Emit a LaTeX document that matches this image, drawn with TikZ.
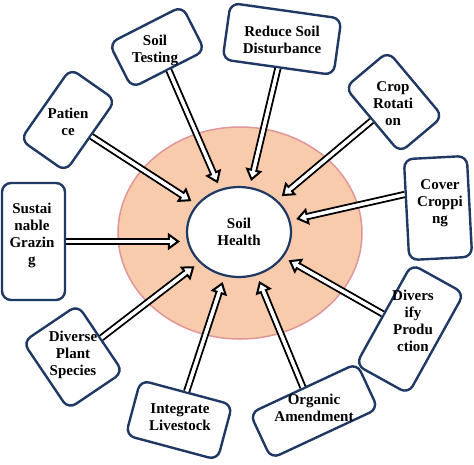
\documentclass[tikz,border=0pt]{standalone}
\usepackage{fontspec}
\setmainfont{Liberation Serif}
\usepackage{tikz}
\usetikzlibrary{arrows.meta, shapes.geometric}

\definecolor{boxblue}{RGB}{31,56,100}
\definecolor{peach}{RGB}{248,203,173}
\definecolor{rosy}{RGB}{224,150,150}

\tikzset{
  tag/.style={draw=boxblue, line width=2.4pt, rounded corners=9pt, fill=white, inner sep=0pt},
  tagtext/.style={font=\fontsize{15}{17}\selectfont\bfseries, align=center, inner sep=0pt},
  feed/.style={draw=black, double=white, double distance=3.2pt, line width=2pt,
    -{Triangle[open, fill=white, line width=2pt, length=12pt, width=17pt]}, shorten >=6pt,
    postaction={draw=white, line width=3.2pt, -, shorten >=15pt}},
}

\begin{document}
\begin{tikzpicture}[x=1pt, y=1pt]
\useasboundingbox (0,0) rectangle (474,-464);

\node[ellipse, fill=peach, draw=rosy, line width=1.5pt, minimum width=244pt, minimum height=212pt] (ring) at (240,-233) {};
\node[ellipse, fill=white, draw=boxblue, line width=2.2pt, minimum width=104pt, minimum height=90pt, tagtext] (hub) at (239,-232) {Soil\\Health};

% boxes round the hub
\node[tag, minimum width=82pt, minimum height=50pt, rotate=27] (testing) at (157,-47) {};
\node[tag, minimum width=112pt, minimum height=57pt, rotate=-8] (reduce) at (282,-39) {};
\node[tag, minimum width=56pt, minimum height=85pt, rotate=40] (crop) at (394,-102) {};
\node[tag, minimum width=63pt, minimum height=101pt, rotate=3] (cover) at (438,-208) {};
\node[tag, minimum width=60pt, minimum height=115pt, rotate=-29] (diversify) at (410,-329) {};
\node[tag, minimum width=118pt, minimum height=50pt, rotate=25] (organic) at (314,-411) {};
\node[tag, minimum width=95pt, minimum height=57pt, rotate=-15] (livestock) at (179,-420) {};
\node[tag, minimum width=66pt, minimum height=81pt, rotate=34] (plant) at (73,-357) {};
\node[tag, minimum width=63pt, minimum height=117pt] (grazing) at (33.5,-241.5) {};
\node[tag, minimum width=55pt, minimum height=87pt, rotate=-35] (patience) at (68,-120) {};

% labels stay upright
\node[tagtext] (testing-t) at (155,-50) {Soil\\Testing};
\node[tagtext] (reduce-t) at (282,-40) {Reduce Soil\\Disturbance};
\node[tagtext] (crop-t) at (393,-104) {Crop\\Rotati\\on};
\node[tagtext] (cover-t) at (440,-203) {Cover\\Croppi\\ng};
\node[tagtext] (diversify-t) at (413,-321) {Divers\\ify\\Produ\\ction};
\node[tagtext] (organic-t) at (314,-408) {Organic\\Amendment};
\node[tagtext] (livestock-t) at (180,-417) {Integrate\\Livestock};
\node[tagtext] (plant-t) at (73,-355) {Diverse\\Plant\\Species};
\node[tagtext] (grazing-t) at (32,-235) {Sustai\\nable\\Grazin\\g};
\node[tagtext] (patience-t) at (68,-122) {Patien\\ce};

% arrows into the hub
\draw[feed] (testing.south) -- (hub);
\draw[feed] (reduce.south) -- (hub);
\draw[feed] (crop.west) -- (hub);
\draw[feed] (cover.155) -- (hub);
\draw[feed] (diversify.west) -- (hub);
\draw[feed] (organic.north) -- (hub);
\draw[feed] (livestock.north) -- (hub);
\draw[feed] (plant.east) -- (hub);
\draw[feed] (grazing.east) -- (grazing.east -| hub.west);
\draw[feed] (patience.east) -- (hub);
\end{tikzpicture}
\end{document}
